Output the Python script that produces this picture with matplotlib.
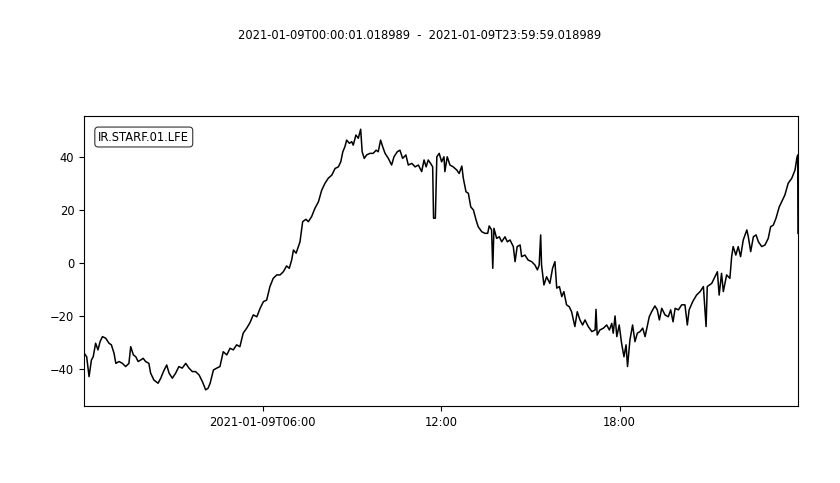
import matplotlib
matplotlib.use("Agg")
import matplotlib.pyplot as plt

# Time in hours since 2021-01-09T00:00:01, values in counts
hours = [
    0.00, 0.09, 0.17, 0.25, 0.31, 0.39, 0.47, 0.54, 0.62, 0.73, 0.84, 0.92, 1.01, 1.07, 1.18,
    1.29, 1.40, 1.51, 1.57, 1.66, 1.74, 1.82, 1.91, 1.99, 2.07, 2.18, 2.24, 2.35, 2.49, 2.58,
    2.67, 2.78, 2.86, 2.97, 3.08, 3.19, 3.30, 3.42, 3.53, 3.64, 3.75, 3.87, 3.98, 4.09, 4.17,
    4.24, 4.35, 4.46, 4.57, 4.68, 4.80, 4.91, 5.02, 5.13, 5.24, 5.35, 5.47, 5.58, 5.69, 5.81,
    5.92, 6.03, 6.14, 6.25, 6.36, 6.48, 6.59, 6.70, 6.81, 6.90, 6.98, 7.04, 7.13, 7.26, 7.35,
    7.46, 7.54, 7.65, 7.76, 7.88, 7.99, 8.10, 8.21, 8.33, 8.44, 8.55, 8.63, 8.70, 8.77, 8.83,
    8.92, 9.00, 9.05, 9.14, 9.22, 9.30, 9.35, 9.42, 9.50, 9.61, 9.72, 9.82, 9.89, 9.97, 10.04,
    10.12, 10.23, 10.34, 10.42, 10.53, 10.62, 10.71, 10.82, 10.90, 11.02, 11.13, 11.24, 11.35,
    11.43, 11.50, 11.57, 11.65, 11.72, 11.75, 11.81, 11.86, 11.94, 12.02, 12.10, 12.13, 12.21,
    12.30, 12.41, 12.53, 12.61, 12.70, 12.75, 12.84, 12.92, 13.00, 13.09, 13.18, 13.25, 13.37,
    13.48, 13.57, 13.62, 13.70, 13.74, 13.78, 13.87, 13.96, 14.04, 14.15, 14.23, 14.32, 14.43,
    14.49, 14.56, 14.66, 14.71, 14.82, 14.93, 15.05, 15.16, 15.24, 15.30, 15.35, 15.38, 15.46,
    15.55, 15.66, 15.75, 15.83, 15.89, 15.98, 16.06, 16.13, 16.22, 16.31, 16.39, 16.50, 16.58,
    16.67, 16.76, 16.84, 16.95, 17.07, 17.18, 17.21, 17.25, 17.34, 17.46, 17.57, 17.66, 17.74,
    17.79, 17.85, 17.91, 17.99, 18.07, 18.15, 18.22, 18.27, 18.35, 18.44, 18.52, 18.60, 18.69,
    18.78, 18.86, 18.93, 19.00, 19.08, 19.19, 19.27, 19.34, 19.42, 19.53, 19.64, 19.72, 19.80,
    19.87, 19.98, 20.09, 20.20, 20.28, 20.34, 20.46, 20.59, 20.71, 20.82, 20.91, 20.95, 21.10,
    21.21, 21.29, 21.35, 21.43, 21.49, 21.60, 21.71, 21.77, 21.82, 21.91, 21.99, 22.07, 22.16,
    22.28, 22.33, 22.41, 22.50, 22.59, 22.67, 22.78, 22.89, 23.00, 23.08, 23.17, 23.26, 23.37,
    23.45, 23.56, 23.67, 23.79, 23.90, 23.96, 23.99, 24.00,
]
values = [
    -34.0, -35.4, -42.9, -36.6, -35.4, -30.3, -32.8, -29.7, -27.8, -28.4, -30.3, -30.9, -34.1, -37.9, -37.2,
    -37.9, -39.1, -37.9, -31.6, -34.7, -35.4, -37.2, -36.6, -36.0, -37.2, -37.9, -41.6, -44.2, -45.4, -43.5,
    -41.0, -38.5, -41.6, -43.5, -41.6, -39.1, -39.7, -37.9, -39.7, -41.0, -41.0, -42.3, -44.8, -47.9, -47.3,
    -45.4, -40.4, -39.7, -39.1, -33.5, -34.7, -32.2, -32.8, -30.9, -31.6, -26.5, -24.6, -22.5, -19.6, -20.3,
    -17.1, -14.6, -14.0, -8.9, -5.8, -4.5, -4.5, -3.3, -1.1, -2.0, 1.1, 4.9, 3.7, 8.0, 15.6,
    16.5, 15.6, 17.5, 20.6, 23.1, 27.5, 30.1, 32.0, 33.2, 35.7, 36.3, 38.2, 42.0, 43.9, 46.4,
    45.2, 45.8, 44.5, 48.3, 47.1, 50.5, 42.0, 39.5, 40.8, 41.4, 41.4, 42.6, 42.0, 46.4, 43.9,
    41.4, 39.5, 37.0, 40.1, 42.0, 42.6, 39.5, 40.8, 37.0, 37.6, 36.3, 37.0, 34.5,
    38.9, 36.3, 38.9, 37.6, 36.3, 16.9, 16.9, 40.1, 41.4, 38.2, 40.1, 34.5, 40.1,
    37.0, 36.3, 35.1, 33.8, 36.6, 32.0, 26.9, 26.3, 21.2, 20.0, 16.2, 13.7, 11.8,
    11.2, 11.2, 14.0, 12.5, -2.0, 13.1, 9.3, 9.9, 8.0, 9.9, 8.0, 8.7, 6.2,
    0.5, 6.2, 6.8, 2.4, 3.0, 1.1, 0.5, -0.8, -2.6, -0.8, 10.6, -0.8, -8.3,
    -5.2, -7.7, -2.0, 0.5, -9.5, -8.9, -12.7, -10.8, -15.8, -16.5, -18.4, -24.0, -18.4,
    -21.5, -23.4, -21.5, -24.0, -25.9, -25.3, -17.5, -27.2, -25.3, -24.6, -23.4, -25.3, -22.8,
    -26.5, -20.0, -27.8, -23.4, -30.3, -35.4, -30.9, -39.1, -29.1, -23.4, -29.7, -26.5, -25.9,
    -24.6, -27.8, -24.0, -20.3, -18.4, -16.2, -17.7, -21.5, -17.1, -19.6, -20.3, -17.7, -22.2,
    -17.1, -17.7, -15.8, -15.8, -23.4, -17.7, -14.6, -12.1, -10.8, -8.9, -24.0, -8.9, -7.7,
    -5.2, -3.3, -12.1, -3.9, -10.8, -4.5, -5.8, 2.4, 6.2, 3.0, 6.2, 2.4, 8.7,
    12.5, 9.9, 4.3, 9.9, 10.6, 8.0, 6.2, 6.8, 9.3, 13.7, 14.3, 16.9, 21.2,
    23.1, 25.7, 30.1, 32.0, 35.1, 39.5, 40.8, 11.2,
]

tick_hours = [6, 12, 18]
tick_labels = ["2021-01-09T06:00", "12:00", "18:00"]
y_ticks = [-40, -20, 0, 20, 40]
trace_id = "IR.STARF.01.LFE"
title = "2021-01-09T00:00:01.018989  -  2021-01-09T23:59:59.018989"

fig = plt.figure(figsize=(8.4, 4.83), dpi=100)
ax = fig.add_axes([0.1, 0.1594, 0.85, 0.6004])
ax.plot(hours, values, color="black", lw=1.1)
ax.set_xlim(0, 24)
ax.set_ylim(-54, 55.5)
ax.set_xticks(tick_hours)
ax.set_xticklabels(tick_labels)
ax.set_yticks(y_ticks)
ax.tick_params(axis="both", labelsize=8.3)
ax.text(0.02, 0.95, trace_id, transform=ax.transAxes, va="top", ha="left",
        fontsize=8.3,
        bbox=dict(boxstyle="round,pad=0.3", facecolor="white", edgecolor="#333333", lw=0.8))
fig.text(0.5, 0.9275, title, ha="center", va="center", fontsize=8.3)
fig.savefig("out.png", dpi=100)
